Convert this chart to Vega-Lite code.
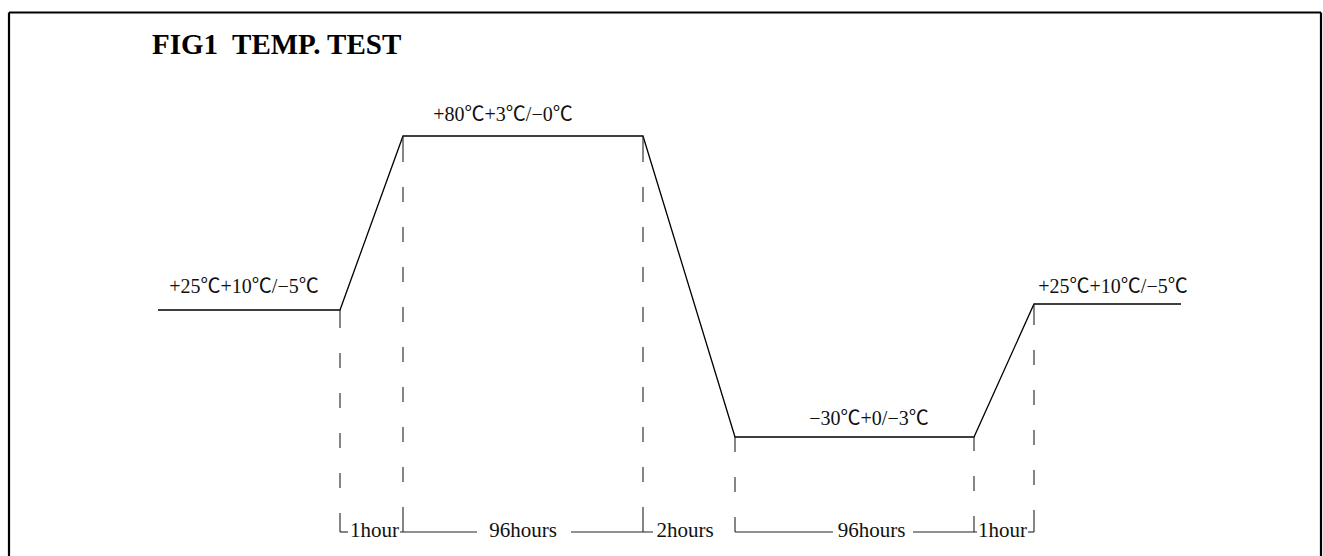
{
  "$schema": "https://vega.github.io/schema/vega-lite/v6.json",
  "width": 1323,
  "height": 556,
  "autosize": {"type": "none"},
  "padding": 0,
  "background": "white",
  "config": {"view": {"stroke": null}},
  "datasets": {
    "profile": [
      {"i": 0, "x": 158, "y": 310},
      {"i": 1, "x": 340, "y": 310},
      {"i": 2, "x": 403, "y": 136},
      {"i": 3, "x": 643, "y": 136},
      {"i": 4, "x": 735, "y": 437},
      {"i": 5, "x": 974, "y": 437},
      {"i": 6, "x": 1034, "y": 304},
      {"i": 7, "x": 1181, "y": 304}
    ],
    "solid": [
      {"x": 340, "y": 310, "y2": 328},
      {"x": 403, "y": 136, "y2": 162},
      {"x": 643, "y": 136, "y2": 162},
      {"x": 735, "y": 437, "y2": 452},
      {"x": 974, "y": 437, "y2": 451},
      {"x": 1034, "y": 304, "y2": 325},
      {"x": 340, "y": 513, "y2": 532},
      {"x": 403, "y": 507, "y2": 532},
      {"x": 643, "y": 507, "y2": 532},
      {"x": 735, "y": 517, "y2": 532},
      {"x": 974, "y": 516, "y2": 532},
      {"x": 1034, "y": 510, "y2": 532}
    ],
    "dashed": [
      {"x": 340, "y": 353, "y2": 488},
      {"x": 403, "y": 187, "y2": 482},
      {"x": 643, "y": 187, "y2": 482},
      {"x": 735, "y": 477, "y2": 492},
      {"x": 974, "y": 476, "y2": 491},
      {"x": 1034, "y": 350, "y2": 485}
    ],
    "spans": [
      {"x": 340, "x2": 348, "y": 532},
      {"x": 400, "x2": 477, "y": 532},
      {"x": 571, "x2": 653, "y": 532},
      {"x": 735, "x2": 833, "y": 532},
      {"x": 913, "x2": 977, "y": 532},
      {"x": 1028, "x2": 1034, "y": 532}
    ],
    "border": [
      {"x": 9, "x2": 9, "y": 12.5, "y2": 556},
      {"x": 9, "x2": 1321, "y": 12.5, "y2": 12.5},
      {"x": 1321, "x2": 1321, "y": 12.5, "y2": 556}
    ],
    "labels": [
      {"label": "+80℃+3℃/−0℃", "x": 503, "y": 121},
      {"label": "+25℃+10℃/−5℃", "x": 244, "y": 293},
      {"label": "+25℃+10℃/−5℃", "x": 1113, "y": 293},
      {"label": "−30℃+0/−3℃", "x": 869, "y": 425}
    ],
    "bottom": [
      {"label": "1hour", "x": 374.5, "y": 537},
      {"label": "96hours", "x": 523, "y": 537},
      {"label": "2hours", "x": 685, "y": 537},
      {"label": "96hours", "x": 871.5, "y": 537},
      {"label": "1hour", "x": 1002.5, "y": 537}
    ],
    "title": [
      {"label": "FIG1\u00a0 TEMP. TEST", "x": 152, "y": 54}
    ]
  },
  "layer": [
    {
      "data": {"name": "border"},
      "mark": {"type": "rule", "color": "#000", "strokeWidth": 2.2},
      "encoding": {
        "x": {"field": "x", "type": "quantitative", "scale": {"domain": [0, 1323], "nice": false, "zero": false}, "axis": null},
        "x2": {"field": "x2"},
        "y": {"field": "y", "type": "quantitative", "scale": {"domain": [0, 556], "nice": false, "zero": false, "reverse": true}, "axis": null},
        "y2": {"field": "y2"}
      }
    },
    {
      "data": {"name": "profile"},
      "mark": {"type": "line", "color": "#000", "strokeWidth": 1.3},
      "encoding": {
        "x": {"field": "x", "type": "quantitative", "scale": {"domain": [0, 1323], "nice": false, "zero": false}, "axis": null},
        "y": {"field": "y", "type": "quantitative", "scale": {"domain": [0, 556], "nice": false, "zero": false, "reverse": true}, "axis": null},
        "order": {"field": "i", "type": "quantitative"}
      }
    },
    {
      "data": {"name": "solid"},
      "mark": {"type": "rule", "color": "#222", "strokeWidth": 1.1},
      "encoding": {
        "x": {"field": "x", "type": "quantitative", "axis": null},
        "y": {"field": "y", "type": "quantitative", "axis": null},
        "y2": {"field": "y2"}
      }
    },
    {
      "data": {"name": "dashed"},
      "mark": {"type": "rule", "color": "#222", "strokeWidth": 1.1, "strokeDash": [15, 25]},
      "encoding": {
        "x": {"field": "x", "type": "quantitative", "axis": null},
        "y": {"field": "y", "type": "quantitative", "axis": null},
        "y2": {"field": "y2"}
      }
    },
    {
      "data": {"name": "spans"},
      "mark": {"type": "rule", "color": "#222", "strokeWidth": 1.1},
      "encoding": {
        "x": {"field": "x", "type": "quantitative", "axis": null},
        "x2": {"field": "x2"},
        "y": {"field": "y", "type": "quantitative", "axis": null}
      }
    },
    {
      "data": {"name": "labels"},
      "mark": {"type": "text", "font": "Liberation Serif, Noto Sans CJK SC", "fontSize": 20, "color": "#111", "align": "center", "baseline": "alphabetic"},
      "encoding": {
        "x": {"field": "x", "type": "quantitative", "axis": null},
        "y": {"field": "y", "type": "quantitative", "axis": null},
        "text": {"field": "label"}
      }
    },
    {
      "data": {"name": "bottom"},
      "mark": {"type": "text", "font": "Liberation Serif", "fontSize": 21, "color": "#111", "align": "center", "baseline": "alphabetic"},
      "encoding": {
        "x": {"field": "x", "type": "quantitative", "axis": null},
        "y": {"field": "y", "type": "quantitative", "axis": null},
        "text": {"field": "label"}
      }
    },
    {
      "data": {"name": "title"},
      "mark": {"type": "text", "font": "Liberation Serif", "fontSize": 29, "fontWeight": "bold", "color": "#000", "align": "left", "baseline": "alphabetic"},
      "encoding": {
        "x": {"field": "x", "type": "quantitative", "axis": null},
        "y": {"field": "y", "type": "quantitative", "axis": null},
        "text": {"field": "label"}
      }
    }
  ]
}
